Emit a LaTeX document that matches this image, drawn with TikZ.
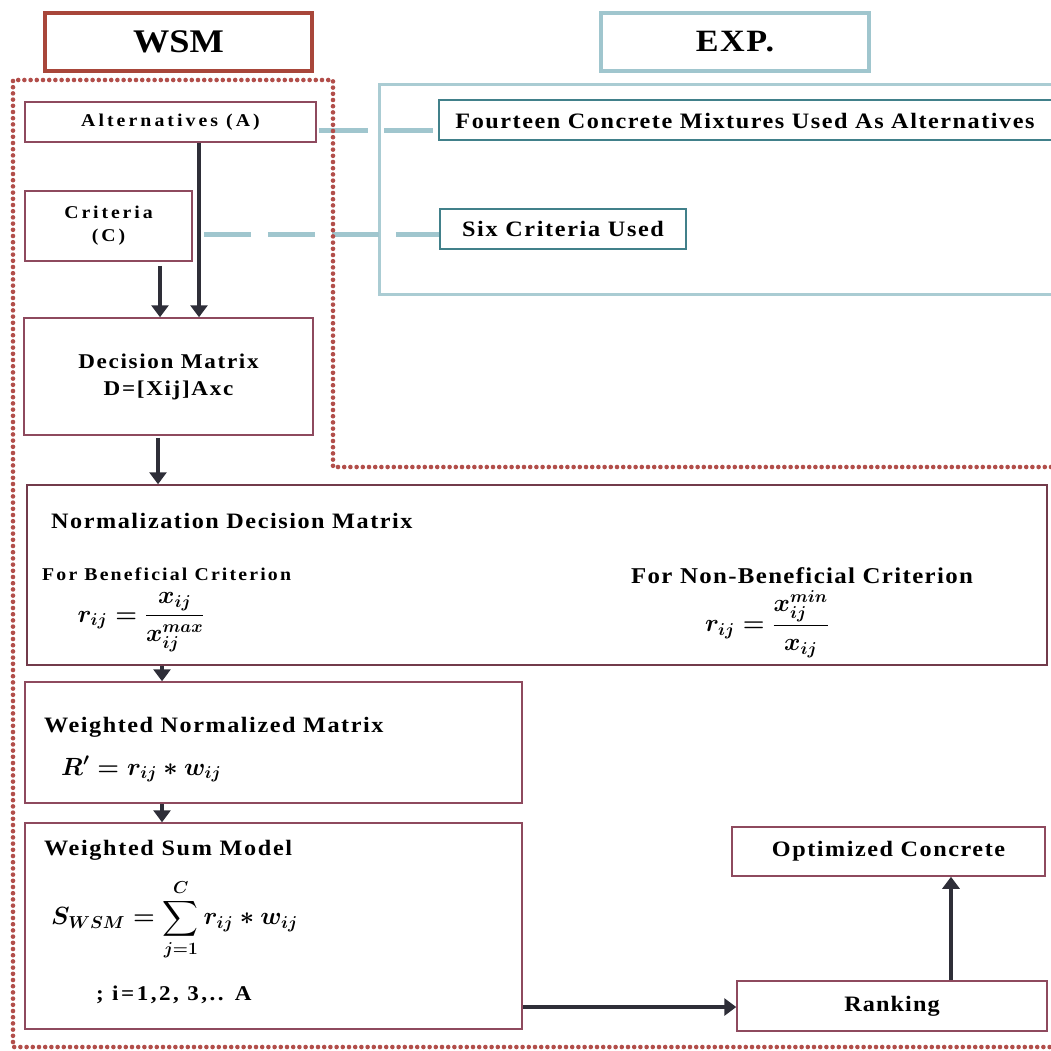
\documentclass[tikz,border=0pt]{standalone}
\usepackage{fontspec}
\usepackage{amsmath}
\setmainfont{Liberation Serif}
\usetikzlibrary{arrows.meta}

\definecolor{wsmred}{HTML}{A8463A}
\definecolor{dotred}{HTML}{B24E4A}
\definecolor{expblue}{HTML}{A0C6CE}
\definecolor{boxrose}{HTML}{8E4A5E}
\definecolor{boxteal}{HTML}{41808A}
\definecolor{arrowgray}{HTML}{2E2E38}

% bold serif text at a given size (pt) with a given letter spacing, slightly widened
\newcommand\lsfont[2]{\fontsize{#1pt}{\dimexpr #1pt*9/7\relax}\selectfont\bfseries\addfontfeatures{LetterSpace=#2,FakeStretch=1.1}}
% bold formula at a given size (pt), kept inside its own group
\newcommand\formula[2]{\mbox{\fontsize{#1pt}{30pt}\selectfont\boldmath$#2$}}

\tikzset{
  headbox/.style={draw, line width=4.5pt, minimum width=#1, inner sep=0pt},
  stepbox/.style={draw=boxrose, line width=1.5pt, inner sep=0pt},
  expbox/.style={draw=boxteal, line width=1.5pt, inner sep=0pt},
  lbl/.style={inner sep=0pt, anchor=base west},
  arr/.style={draw=arrowgray, line width=4.5pt, -{Triangle[width=17pt,length=12pt]}},
  link/.style={draw=expblue, line width=5pt},
  region/.style={draw=dotred, line width=4.6pt, line cap=round, dash pattern=on 0pt off 6.2pt},
}

\begin{document}
\begin{tikzpicture}[x=1pt, y=-1pt]
\useasboundingbox[fill=white] (0,0) rectangle (1051,1050);

% experimental frame
\draw[draw=expblue!90!white, line width=3pt] (1060,84) -- (379,84) -- (379,294) -- (1060,294);

% titles
\node[headbox=267pt, draw=wsmred, minimum height=58pt] (wsm) at (178.5,42) {\lsfont{33}{0}WSM};
\node[headbox=268pt, draw=expblue, minimum height=58pt] (exp) at (735,42) {\lsfont{31}{5}EXP.};

% inputs
\node[stepbox, minimum width=291pt, minimum height=40pt] (alt) at (170.5,122) {\lsfont{18}{17}Alternatives (A)};
\node[stepbox, minimum width=167pt, minimum height=70pt, align=center, font=\lsfont{18}{16}] (crit) at (108.5,226) {Criteria\\(C)};

% experimental counterparts
\node[expbox, minimum width=618pt, minimum height=40pt] (four) at (748,120) {};
\node[lbl, anchor=base] (fourtxt) at (745,128) {\lsfont{22}{7}Fourteen Concrete Mixtures Used As Alternatives};
\node[expbox, minimum width=246pt, minimum height=40pt] (six) at (563,229) {\lsfont{22}{7.5}Six Criteria Used};

% decision matrix
\node[stepbox, minimum width=289pt, minimum height=117pt, align=center, font=\lsfont{21}{8}] (dec) at (168.5,376.5)
  {Decision Matrix\\D=[Xij]Axc};

% normalization
\node[stepbox, draw=boxrose!80!black, minimum width=1020pt, minimum height=180pt] (norm) at (537,575) {};
\node[lbl] (normtitle) at (51,528) {\lsfont{22}{7}Normalization Decision Matrix};
\node[lbl] (bentxt) at (42,580) {\lsfont{18}{12}For Beneficial Criterion};
\node[inner sep=0pt] (benf) at (141,622) {\formula{23}{\displaystyle r_{ij} = \frac{x_{ij}}{x_{ij}^{max}}}};
\node[lbl, anchor=base] (nbentxt) at (802,583) {\lsfont{22.6}{6}For Non-Beneficial Criterion};
\node[inner sep=0pt] (nbenf) at (767,624) {\formula{23}{\displaystyle r_{ij} = \frac{x_{ij}^{min}}{x_{ij}}}};

% weighted normalized matrix
\node[stepbox, minimum width=497pt, minimum height=121pt] (wn) at (273.5,742.5) {};
\node[lbl] (wntitle) at (44,732) {\lsfont{22}{7}Weighted Normalized Matrix};
\node[lbl] (wnf) at (61,775) {\formula{23}{R' = r_{ij} * w_{ij}}};

% weighted sum model
\node[stepbox, minimum width=497pt, minimum height=206pt] (ws) at (273.5,926) {};
\node[lbl] (wstitle) at (44,855) {\lsfont{22}{7.5}Weighted Sum Model};
\node[inner sep=0pt] (wsf) at (174.5,920) {\formula{25}{\displaystyle S_{WSM} = \sum_{j=1}^{C} r_{ij} * w_{ij}}};
\node[lbl] (wsidx) at (96,1000) {\lsfont{21}{12}; i=1,2, 3,.. A};

% result
\node[stepbox, minimum width=310pt, minimum height=50pt] (rank) at (892,1006) {\lsfont{22}{5}Ranking};
\node[stepbox, minimum width=313pt, minimum height=49pt] (opt) at (888.5,851.5) {\lsfont{22}{7}Optimized Concrete};

% guide coordinates for connectors
\coordinate (ax) at (199,0);
\coordinate (cx) at (160,0);
\coordinate (dx) at (158,0);
\coordinate (nx) at (162,0);
\coordinate (wx) at (162,0);
\coordinate (rx) at (951,0);
\coordinate (sy) at (0,1007);
\coordinate (ay) at (0,130);
\coordinate (cy) at (0,234);

% dashed links to the experimental side
\draw[link, dash pattern=on 49pt off 16pt, shorten <=2pt] (alt.east |- ay) -- (four.west |- ay);
\draw[link, dash pattern=on 47pt off 17pt, shorten <=11pt] (crit.east |- cy) -- (six.west |- cy);

% dotted frame of the WSM steps
\draw[region] (1051,467) -- (333,467) -- (333,80) -- (13,80) -- (13,1047) -- (1051,1047);

% flow arrows
\draw[arr] (alt.south -| ax) -- (dec.north -| ax);
\draw[arr, shorten <=4pt] (crit.south -| cx) -- (dec.north -| cx);
\draw[arr, shorten <=2pt] (dec.south -| dx) -- (norm.north -| dx);
\draw[arr] (norm.south -| nx) -- (wn.north -| nx);
\draw[arr] (wn.south -| wx) -- (ws.north -| wx);
\draw[arr] (ws.east |- sy) -- (rank.west |- sy);
\draw[arr] (rank.north -| rx) -- (opt.south -| rx);
\end{tikzpicture}
\end{document}
